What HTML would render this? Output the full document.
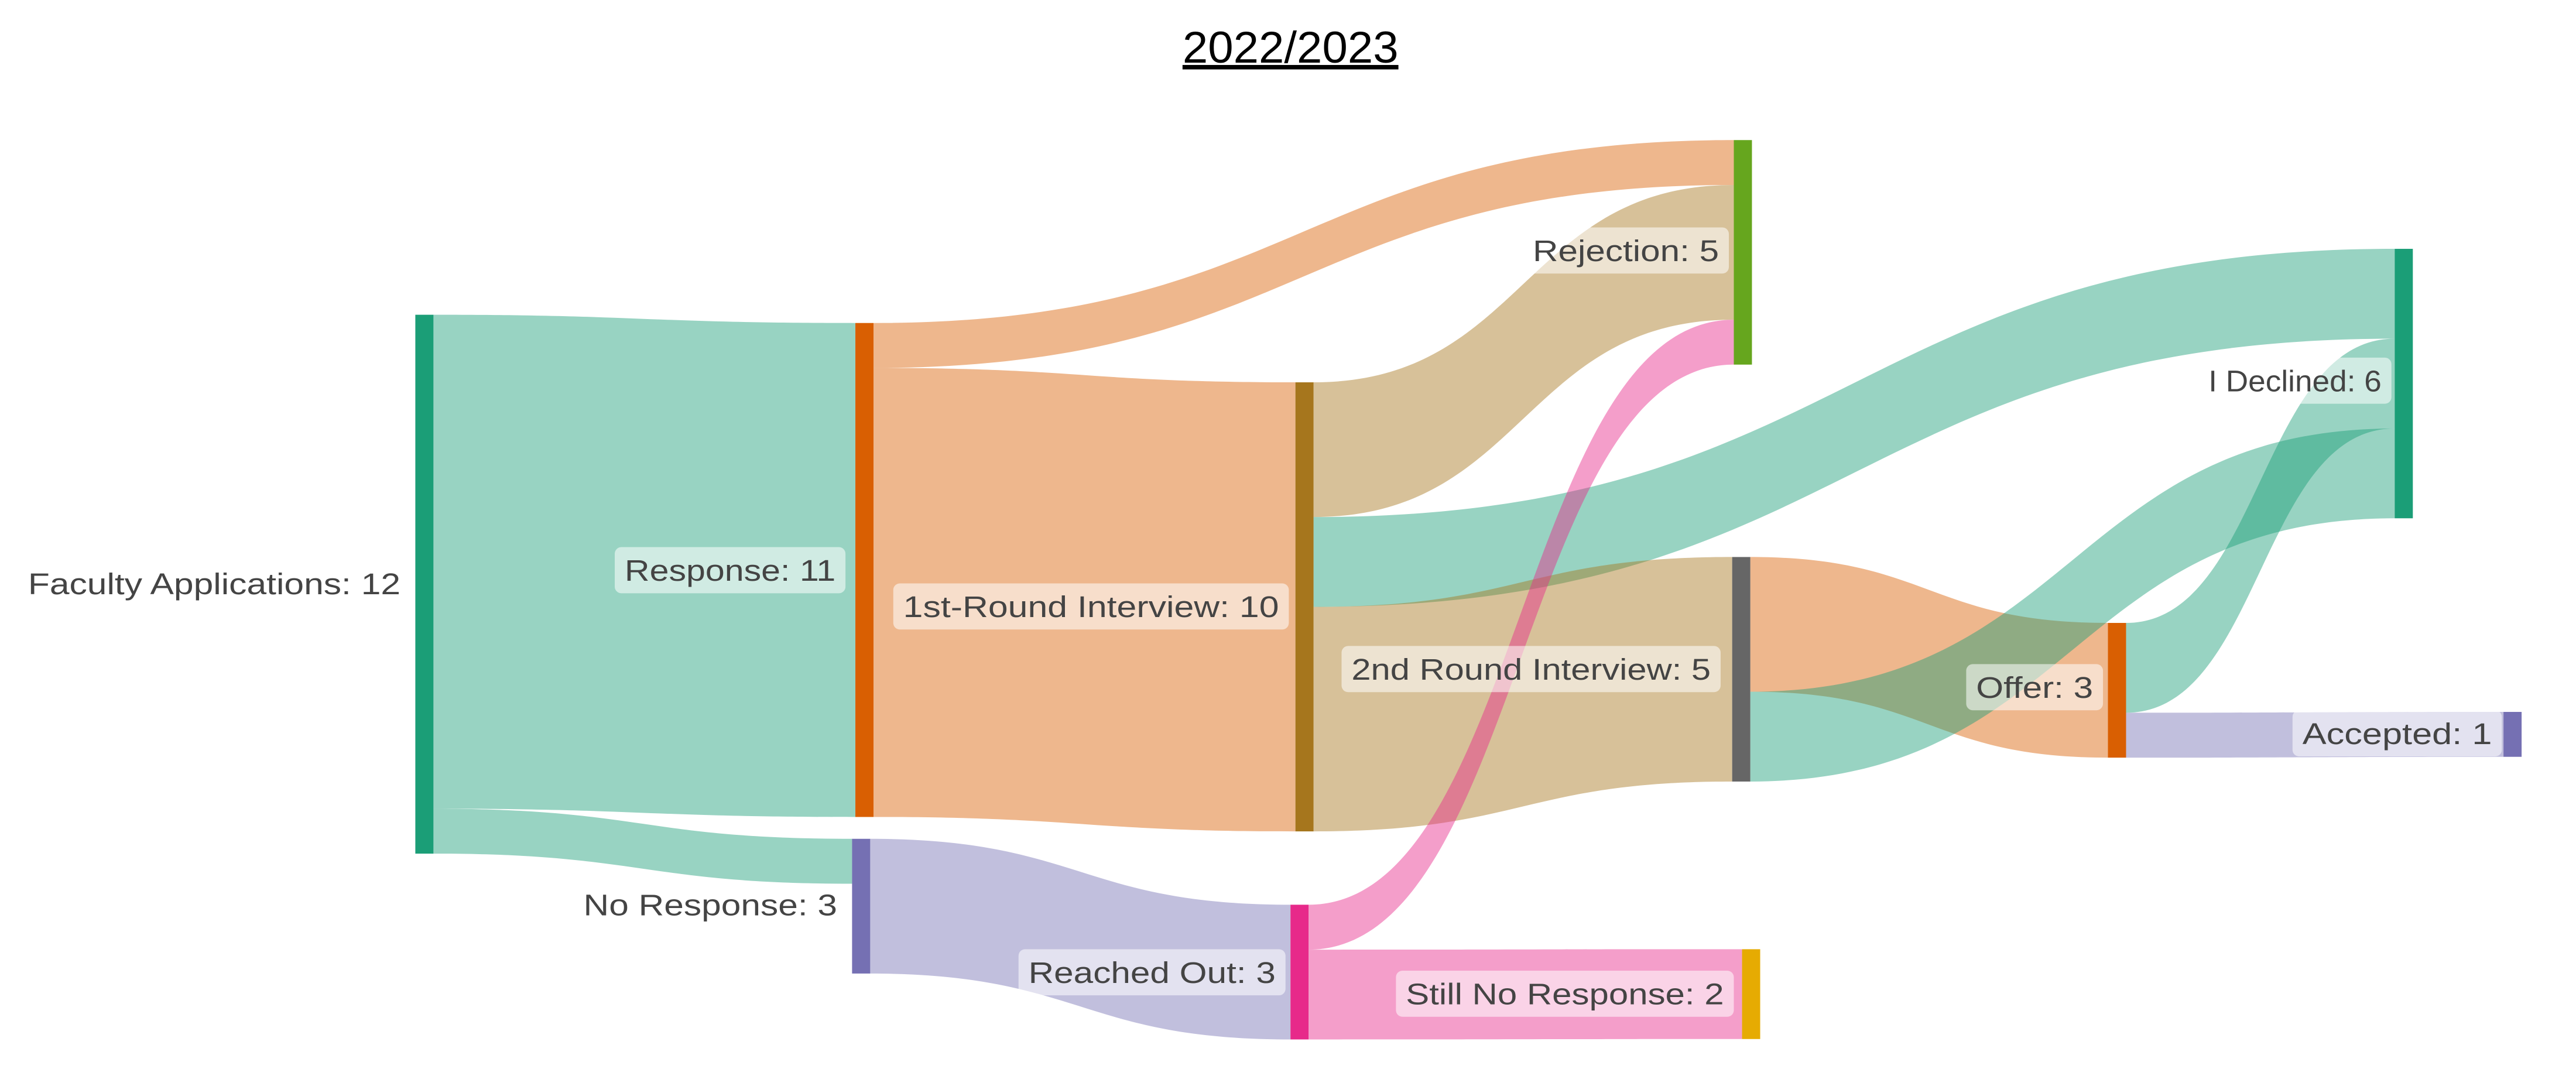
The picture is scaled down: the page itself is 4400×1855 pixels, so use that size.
<!DOCTYPE html>
<html><head><meta charset="utf-8"><style>
html,body{margin:0;padding:0;background:#fff;}
svg{display:block;}
text{font-family:"Liberation Sans",sans-serif;}
</style></head><body>
<svg id="chart" width="4400" height="1855" viewBox="0 0 1563 659" preserveAspectRatio="none" xmlns="http://www.w3.org/2000/svg">
<rect width="1563" height="659" fill="#fff"/>
<text x="783" y="38" text-anchor="middle" font-size="27" fill="#000" text-decoration="underline" textLength="131" lengthAdjust="spacingAndGlyphs">2022/2023</text>
<g id="links"></g><g id="nodes"></g><g id="labels"></g>
</svg>
<script>
const nodeNames = ["Faculty Applications","Response","No Response","1st-Round Interview","Reached Out","Rejection","2nd Round Interview","Still No Response","Offer","I Declined","Accepted"];
const linkSource = [0,0,1,1,3,3,3,2,4,4,6,8,6,8];
const linkTarget = [1,2,5,3,5,9,6,4,5,7,8,9,9,10];
const linkValue  = [11,1,1,10,3,2,5,3,1,2,3,2,2,1];
const nodeColors = ["#1b9e77","#d95f02","#7570b3","#a6761d","#e7298a","#66a61e","#666666","#e6ab02","#d95f02","#1b9e77","#7570b3"];
const linkColors = ["#1b9e77","#1b9e77","#d95f02","#d95f02","#a6761d","#1b9e77","#a6761d","#7570b3","#e7298a","#e7298a","#d95f02","#1b9e77","#1b9e77","#7570b3"];
// layout (pixel positions in viewBox units)
const nodeX   = [252,519,517,786,783,1052,1051,1057,1279,1453,1519];
const nodeTop = [191,196,509,232,549,85,338,576,378,151,432];
const K = 27.25, NW = 11;
const NS="http://www.w3.org/2000/svg";
const inSum = nodeNames.map(()=>0), outSum = nodeNames.map(()=>0);
linkValue.forEach((v,i)=>{outSum[linkSource[i]]+=v; inSum[linkTarget[i]]+=v;});
const nodeVal = nodeNames.map((_,i)=>Math.max(inSum[i],outSum[i]));
const outOff = nodeNames.map(()=>0), inOff = nodeNames.map(()=>0);
const gL=document.getElementById('links');
linkValue.forEach((v,i)=>{
  const s=linkSource[i], t=linkTarget[i], h=v*K;
  const x0=nodeX[s]+NW, x1=nodeX[t];
  const y0=nodeTop[s]+outOff[s]*K, y1=nodeTop[t]+inOff[t]*K;
  outOff[s]+=v; inOff[t]+=v;
  const xm=(x0+x1)/2;
  const d=`M${x0},${y0}C${xm},${y0} ${xm},${y1} ${x1},${y1}L${x1},${y1+h}C${xm},${y1+h} ${xm},${y0+h} ${x0},${y0+h}Z`;
  const p=document.createElementNS(NS,'path');
  p.setAttribute('d',d);
  p.setAttribute('fill',linkColors[i]);
  p.setAttribute('fill-opacity','0.45');
  
  
  gL.appendChild(p);
});
const gN=document.getElementById('nodes');
nodeNames.forEach((n,i)=>{
  const r=document.createElementNS(NS,'rect');
  r.setAttribute('x',nodeX[i]); r.setAttribute('y',nodeTop[i]);
  r.setAttribute('width',NW); r.setAttribute('height',nodeVal[i]*K);
  r.setAttribute('fill',nodeColors[i]);
  
  
  gN.appendChild(r);
});
// labels: [nodeIndex, textLeft, textWidth, centerY, hasBox]
const labelPos = [[0,17,226,354,0],[1,379,128,346,1],[2,354,154,549,0],[3,548,228,368,1],[5,930,113,152,1],[6,820,218,406,1],[4,624,150,590,1],[7,853,193,603,1],[8,1199,71,417,1],[9,1340,105,231,1],[10,1397,115,445,1]];
const gT=document.getElementById('labels');
labelPos.forEach(l=>{
  const [i,x,w,cy,box]=l;
  const name=nodeNames[i].toLowerCase().replace(/[^a-z0-9]+/g,'-');
  if(box){
    const b=document.createElementNS(NS,'rect');
    b.setAttribute('x',x-6); b.setAttribute('y',cy-14); b.setAttribute('width',w+12); b.setAttribute('height',28);
    b.setAttribute('rx',4); b.setAttribute('fill','#fff'); b.setAttribute('fill-opacity','0.55');
    
    
    gT.appendChild(b);
  }
  const t=document.createElementNS(NS,'text');
  t.setAttribute('x',x); t.setAttribute('y',cy+6.5);
  t.setAttribute('font-size','18'); t.setAttribute('fill','#444');
  t.setAttribute('textLength',w); t.setAttribute('lengthAdjust','spacingAndGlyphs');
  t.textContent=nodeNames[i]+': '+nodeVal[i];
  
  
  gT.appendChild(t);
});
</script>
</body></html>
